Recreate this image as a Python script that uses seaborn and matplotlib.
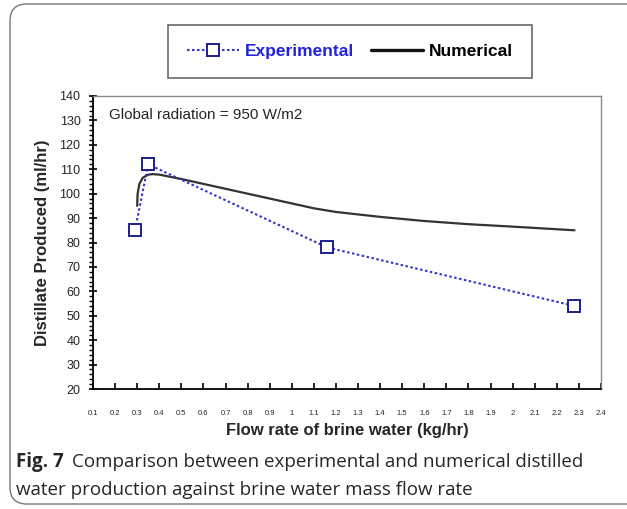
import matplotlib
matplotlib.use("Agg")
import matplotlib.pyplot as plt
import seaborn as sns
import pandas as pd
from matplotlib.patches import FancyBboxPatch
from matplotlib.ticker import MultipleLocator
from matplotlib.lines import Line2D

# Data
exp_flow = [0.29, 0.35, 1.16, 2.28]
exp_distillate = [85, 112, 78, 54]
num_flow = [0.300, 0.302, 0.310, 0.325, 0.35, 0.37, 0.40, 0.50, 0.60, 0.70, 0.80, 0.90,
            1.00, 1.10, 1.20, 1.40, 1.60, 1.80, 2.00, 2.28]
num_distillate = [95, 100, 104, 106.5, 107.8, 108, 107.8, 106, 104, 102, 100, 98,
                  96, 94, 92.5, 90.5, 88.8, 87.5, 86.5, 85]
x_ticks = [round(0.1 + 0.1 * i, 1) for i in range(24)]
x_tick_labels = ["1" if t == 1.0 else ("2" if t == 2.0 else f"{t:g}") for t in x_ticks]
y_ticks = list(range(20, 141, 10))

sns.set_theme(style="white")
plt.rcParams['font.family'] = ['Liberation Sans', 'DejaVu Sans']

fig = plt.figure(figsize=(6.27, 5.09), dpi=100)
W, H = 627, 509
ax = fig.add_axes([93 / W, 1 - 389 / H, 508 / W, 293 / H])

df_exp = pd.DataFrame({"x": exp_flow, "y": exp_distillate})
df_num = pd.DataFrame({"x": num_flow, "y": num_distillate})

sns.lineplot(data=df_num, x="x", y="y", ax=ax, color="#333333", lw=1.6,
             estimator=None, sort=False)
sns.lineplot(data=df_exp, x="x", y="y", ax=ax, color="#3535c8", lw=1.5,
             linestyle=(0, (1.2, 1.2)), marker="s", markersize=8,
             markerfacecolor="white", markeredgecolor="#1e1e8c",
             markeredgewidth=1.4, estimator=None, sort=False)

ax.set_xlim(0.1, 2.4)
ax.set_ylim(20, 140)
ax.set_xticks(x_ticks)
ax.set_xticklabels(x_tick_labels, fontsize=5.5)
ax.set_yticks(y_ticks)
ax.set_yticklabels([str(v) for v in y_ticks], fontsize=9)
ax.yaxis.set_minor_locator(MultipleLocator(2))
ax.tick_params(axis="y", which="major", direction="inout", length=6, width=1.2,
               color="black", left=True, pad=6)
ax.tick_params(axis="y", which="minor", direction="out", length=3, width=1,
               color="black", left=True)
ax.tick_params(axis="x", which="major", direction="in", length=4, width=1.2,
               color="black", bottom=True, pad=15)
for s in ["left", "bottom"]:
    ax.spines[s].set_color("black")
    ax.spines[s].set_linewidth(1.3)
for s in ["top", "right"]:
    ax.spines[s].set_color("#888888")
    ax.spines[s].set_linewidth(1.0)

ax.set_xlabel("Flow rate of brine water (kg/hr)", fontsize=12, fontweight="bold")
ax.xaxis.set_label_coords(0.5, -(423 - 389) / 293)
ax.set_ylabel("Distillate Produced (ml/hr)", fontsize=12, fontweight="bold")
ax.yaxis.set_label_coords(-(93 - 50) / 508, 0.5)
ax.text(109 / W, 1 - 115 / H, "Global radiation = 950 W/m2", transform=fig.transFigure,
        fontsize=11, va="center", ha="left")

handles = [
    Line2D([], [], color="#3535c8", lw=1.5, linestyle=(0, (1.2, 1.2)), marker="s",
           markersize=8, markerfacecolor="white", markeredgecolor="#1e1e8c",
           markeredgewidth=1.4),
    Line2D([], [], color="#111111", lw=2.4),
]
leg = fig.legend(handles, ["Experimental", "Numerical"], loc="center",
                 bbox_to_anchor=(350 / W, 1 - 51.5 / H), ncol=2, frameon=True,
                 fancybox=False, edgecolor="#444444",
                 prop={"weight": "bold", "size": 12.5}, handlelength=3.0,
                 columnspacing=1.0, handletextpad=0.3, borderpad=1.1)
leg.get_frame().set_linewidth(1.2)
leg.get_texts()[0].set_color("#2222dd")
leg.get_texts()[1].set_color("black")

# Outer rounded caption frame
frame = FancyBboxPatch((10 / W, 5 / H), 640 / W, 500 / H,
                       boxstyle="round,pad=0,rounding_size=0.027",
                       mutation_aspect=W / H,
                       transform=fig.transFigure, facecolor="none",
                       edgecolor="#777777", lw=1.0, clip_on=False)
fig.patches.append(frame)

cap_font = ["Open Sans", "DejaVu Sans"]
t1 = fig.text(16 / W, 1 - 462 / H, "Fig. 7", fontsize=13.5, fontweight="bold",
              family=cap_font, va="center", ha="left")
renderer = fig.canvas.get_renderer()
bb = t1.get_window_extent(renderer=renderer)
fig.text((bb.x1 + 8) / W, 1 - 462 / H,
         "Comparison between experimental and numerical distilled",
         fontsize=13.5, family=cap_font, va="center", ha="left")
fig.text(16 / W, 1 - 490 / H, "water production against brine water mass flow rate",
         fontsize=13.5, family=cap_font, va="center", ha="left")

fig.savefig("out.png", dpi=100)
